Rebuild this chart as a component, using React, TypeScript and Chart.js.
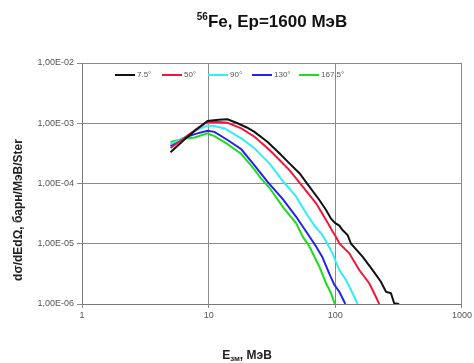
import { useEffect, useRef } from "react";
import { Chart, registerables } from "chart.js";
Chart.register(...registerables);

const seriesLabels = ["7.5°", "50°", "90°", "130°", "167.5°"];
const seriesColors = ["#111111", "#f0183a", "#30eef8", "#2222ee", "#1edc1e"];

const energy75 = [5, 6.5, 8, 9.8, 12, 14.1, 16.9, 20, 23, 29.2, 36.2, 43.4, 52.1, 62.4, 74.8, 84.5, 92.5, 100, 107.5, 114, 125, 133, 164, 197, 229, 251, 275, 291.5, 319];
const sigma75 = [3.3e-4, 5.5e-4, 7.9e-4, 1.09e-3, 1.14e-3, 1.16e-3, 1.0e-3, 8.5e-4, 7.2e-4, 4.9e-4, 3.17e-4, 2.16e-4, 1.48e-4, 8.85e-5, 5.32e-5, 3.63e-5, 2.6e-5, 2.2e-5, 2.0e-5, 1.69e-5, 1.4e-5, 1.0e-5, 6.1e-6, 3.66e-6, 2.34e-6, 1.6e-6, 1.51e-6, 1.03e-6, 1.0e-6];

const energy50 = [5, 6.5, 8, 9.8, 12, 14.1, 18.1, 23, 29.2, 32.1, 37.4, 43.4, 55.3, 70.5, 84.5, 95.2, 101, 108, 128.9, 154.5, 185.2, 209, 222];
const sigma50 = [3.9e-4, 5.8e-4, 8.0e-4, 1.06e-3, 1.05e-3, 1.02e-3, 8.24e-4, 5.98e-4, 3.84e-4, 3.17e-4, 2.3e-4, 1.67e-4, 8.85e-5, 4.69e-5, 2.48e-5, 1.6e-5, 1.31e-5, 1.0e-5, 6.94e-6, 3.66e-6, 2.21e-6, 1.32e-6, 1.0e-6];

const energy90 = [5, 6.5, 7.76, 9.8, 11, 13.4, 18.1, 23, 30.2, 38.5, 49.1, 58.8, 68.4, 79, 86.6, 95, 107.5, 121.4, 136.9, 149.9];
const sigma90 = [4.5e-4, 5.9e-4, 7.5e-4, 9.2e-4, 9.0e-4, 8.2e-4, 5.62e-4, 3.84e-4, 2.16e-4, 1.1e-4, 6.04e-5, 3.2e-5, 2.0e-5, 1.4e-5, 1.0e-5, 6.9e-6, 3.66e-6, 2.5e-6, 1.51e-6, 1.0e-6];

const energy130 = [5, 6.5, 7.76, 9.8, 11.1, 14.1, 18.1, 23, 29.3, 38.5, 49.1, 58.8, 70.5, 79, 89.6, 98, 107.5, 120];
const sigma130 = [4.2e-4, 5.8e-4, 6.6e-4, 7.5e-4, 7.2e-4, 5.27e-4, 3.7e-4, 2.0e-4, 1.05e-4, 5.5e-5, 2.8e-5, 1.6e-5, 9.0e-6, 6.0e-6, 3.2e-6, 2.1e-6, 1.6e-6, 1.0e-6];

const energy1675 = [5, 6.5, 7.76, 9.8, 11.1, 14.1, 18.1, 23, 26, 30.2, 38.5, 49.1, 55.3, 62.4, 74.8, 84.5, 92.5, 99];
const sigma1675 = [4.9e-4, 5.6e-4, 5.8e-4, 6.8e-4, 6.1e-4, 4.5e-4, 3.1e-4, 1.7e-4, 1.2e-4, 8.5e-5, 4.1e-5, 2.18e-5, 1.31e-5, 9.0e-6, 4.16e-6, 2.21e-6, 1.51e-6, 1.0e-6];

const xTickValues = [1, 10, 100, 1000];
const xTickLabels = ["1", "10", "100", "1000"];
const yTickValues = [1e-6, 1e-5, 1e-4, 1e-3, 1e-2];
const yTickLabels = ["1,00E-06", "1,00E-05", "1,00E-04", "1,00E-03", "1,00E-02"];

const energies = [energy75, energy50, energy90, energy130, energy1675];
const sigmas = [sigma75, sigma50, sigma90, sigma130, sigma1675];

const FONT = "'Liberation Sans', Arial, sans-serif";

const decorPlugin = {
  id: "decor",
  afterDraw(chart: any) {
    const ctx = chart.ctx as CanvasRenderingContext2D;
    ctx.save();
    // Title
    ctx.fillStyle = "#111";
    ctx.textBaseline = "alphabetic";
    const sup = "56";
    const main = "Fe, Ep=1600 МэВ";
    ctx.font = `bold 10px ${FONT}`;
    const wSup = ctx.measureText(sup).width;
    ctx.font = `bold 17px ${FONT}`;
    const wMain = ctx.measureText(main).width;
    const cx = 272;
    const x0 = cx - (wSup + wMain) / 2;
    ctx.font = `bold 10px ${FONT}`;
    ctx.textAlign = "left";
    ctx.fillText(sup, x0, 20);
    ctx.font = `bold 17px ${FONT}`;
    ctx.fillText(main, x0 + wSup, 27);

    // Y title
    ctx.save();
    ctx.translate(19, 210);
    ctx.rotate(-Math.PI / 2);
    ctx.font = `bold 12px ${FONT}`;
    ctx.textAlign = "center";
    ctx.textBaseline = "middle";
    ctx.fillStyle = "#222";
    ctx.fillText("dσ/dEdΩ, барн/МэВ/Ster", 0, 0);
    ctx.restore();

    // X title
    ctx.fillStyle = "#222";
    ctx.textBaseline = "alphabetic";
    const a = "E", sub = "зм", b = ", МэВ";
    ctx.font = `bold 12px ${FONT}`;
    const wa = ctx.measureText(a).width;
    const wb = ctx.measureText(b).width;
    ctx.font = `bold 8px ${FONT}`;
    const wsub = ctx.measureText(sub).width;
    const xs = 247 - (wa + wb + wsub) / 2;
    ctx.font = `bold 12px ${FONT}`;
    ctx.textAlign = "left";
    ctx.fillText(a, xs, 359);
    ctx.font = `bold 8px ${FONT}`;
    ctx.fillText(sub, xs + wa, 361);
    ctx.font = `bold 12px ${FONT}`;
    ctx.fillText(b, xs + wa + wsub, 359);

    // Legend
    const legendX = [115, 162, 208, 252, 299];
    const ly = 75;
    ctx.font = `8px ${FONT}`;
    ctx.textBaseline = "middle";
    chart.data.datasets.forEach((ds: any, i: number) => {
      ctx.strokeStyle = ds.borderColor;
      ctx.lineWidth = 2;
      ctx.beginPath();
      ctx.moveTo(legendX[i], ly);
      ctx.lineTo(legendX[i] + 20, ly);
      ctx.stroke();
      ctx.fillStyle = "#555";
      ctx.fillText(ds.label, legendX[i] + 22, ly);
    });
    ctx.restore();
  },
};

export default function App() {
  const ref = useRef<HTMLCanvasElement>(null);
  useEffect(() => {
    if (!ref.current) return;
    const chart = new Chart(ref.current, {
      type: "line",
      data: {
        datasets: seriesLabels.map((label, i) => ({
          label,
          data: energies[i].map((e, j) => ({ x: e, y: sigmas[i][j] })),
          borderColor: seriesColors[i],
          backgroundColor: seriesColors[i],
          borderWidth: 2,
          pointRadius: 0,
          tension: 0,
          fill: false,
        })),
      },
      options: {
        animation: false,
        responsive: false,
        maintainAspectRatio: false,
        layout: { padding: { top: 63, right: 12, left: 0, bottom: 0 } },
        plugins: { legend: { display: false }, title: { display: false }, tooltip: { enabled: false } },
        scales: {
          x: {
            type: "logarithmic",
            min: 1,
            max: 1000,
            afterBuildTicks: (s: any) => {
              s.ticks = xTickValues.map((v) => ({ value: v }));
            },
            afterFit: (s: any) => {
              s.height = 59;
            },
            ticks: {
              autoSkip: false,
              maxRotation: 0,
              padding: 2,
              color: "#555",
              font: { family: FONT, size: 9 },
              callback: (_v: any, idx: number) => xTickLabels[idx],
            },
            grid: { color: "#8a8a8a", lineWidth: 1, tickLength: 4, drawTicks: true },
            border: { color: "#777", width: 1 },
          },
          y: {
            type: "logarithmic",
            min: 1e-6,
            max: 1e-2,
            afterBuildTicks: (s: any) => {
              s.ticks = yTickValues.map((v) => ({ value: v }));
            },
            afterFit: (s: any) => {
              s.width = 82;
            },
            ticks: {
              autoSkip: false,
              padding: 3,
              color: "#555",
              font: { family: FONT, size: 9 },
              callback: (_v: any, idx: number) => yTickLabels[idx],
            },
            grid: { color: "#8a8a8a", lineWidth: 1, tickLength: 5, drawTicks: true },
            border: { color: "#777", width: 1 },
          },
        },
      },
      plugins: [decorPlugin],
    } as any);
    return () => chart.destroy();
  }, []);
  return (
    <div style={{ position: "fixed", left: 0, top: 0, width: 474, height: 363, background: "#fff" }}>
      <canvas ref={ref} width={474} height={363} style={{ width: 474, height: 363, display: "block" }} />
    </div>
  );
}
